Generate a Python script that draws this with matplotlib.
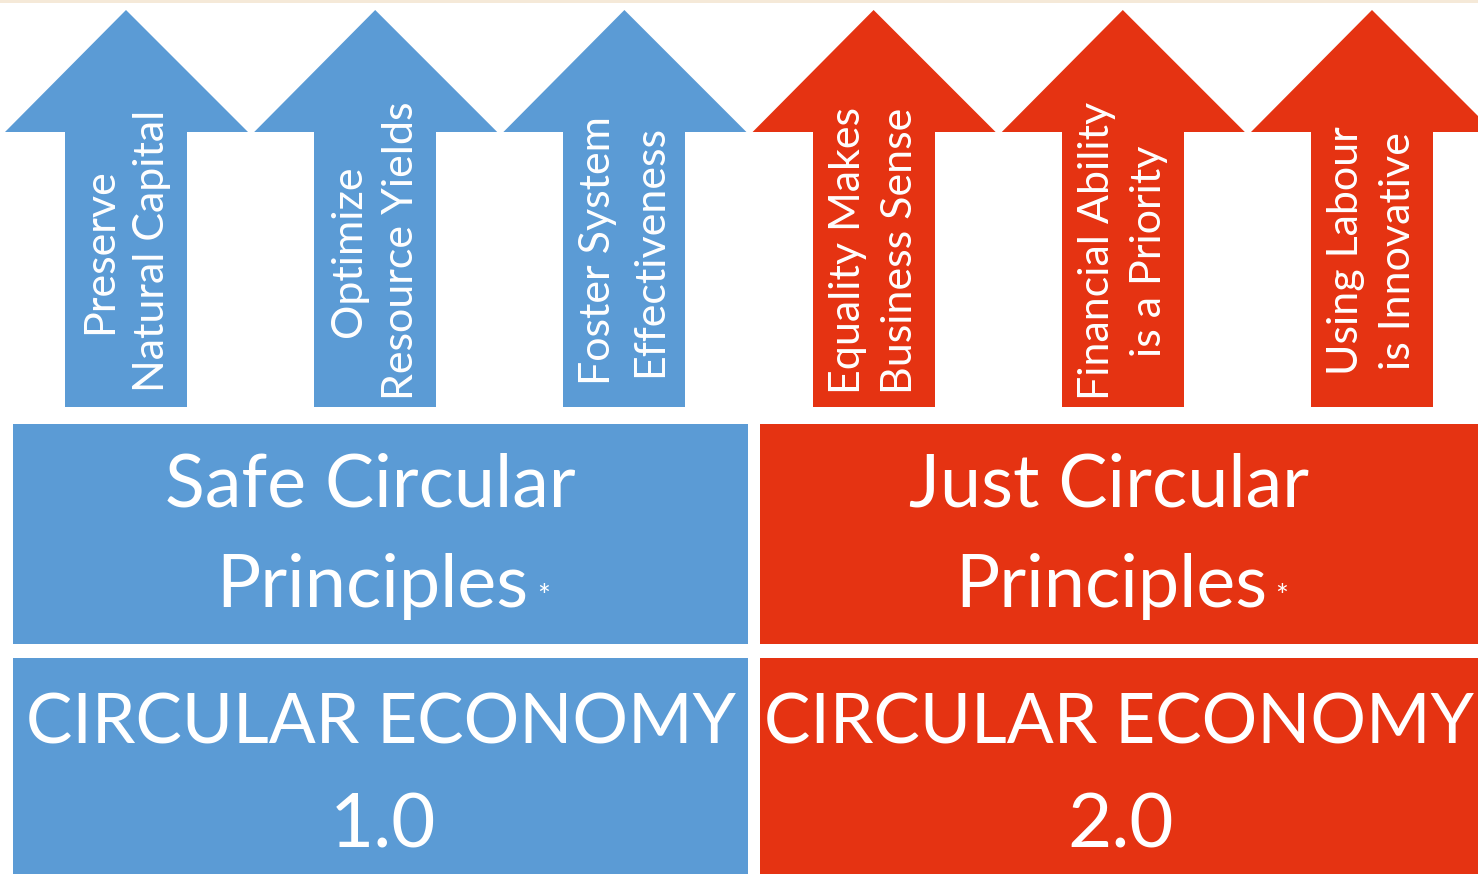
import matplotlib.pyplot as plt
from matplotlib.patches import Polygon, Rectangle

# principles shown on the arrows
principles = ['Preserve\nNatural Capital', 'Optimize\nResource Yields',
              'Foster System\nEffectiveness', 'Equality Makes\nBusiness Sense',
              'Financial Ability\nis a Priority', 'Using Labour\nis Innovative']
arrow_groups = [0, 0, 0, 1, 1, 1]
group_titles = ['Safe Circular', 'Just Circular']
group_subtitles = ['Principles', 'Principles']
economy_labels = ['CIRCULAR ECONOMY', 'CIRCULAR ECONOMY']
economy_versions = ['1.0', '2.0']
group_colors = ['#5B9BD5', '#E53312']

W, H = 1478, 874
font = ['Lato', 'DejaVu Sans']

fig = plt.figure(figsize=(W / 100, H / 100), dpi=100)
ax = fig.add_axes([0, 0, 1, 1])
ax.set_xlim(0, W)
ax.set_ylim(H, 0)
ax.axis('off')

# faint line at the very top
ax.add_patch(Rectangle((0, 0), W, 2.5, color='#F5E9D8', lw=0))

# arrows
for i, (txt, g) in enumerate(zip(principles, arrow_groups)):
    cx = 126 + 249.2 * i
    head = [(cx - 121, 132), (cx, 10), (cx + 122, 132)]
    shaft = [(cx - 61, 132), (cx + 61, 132), (cx + 61, 407), (cx - 61, 407)]
    ax.add_patch(Polygon(head, closed=True, color=group_colors[g], lw=0))
    ax.add_patch(Polygon(shaft, closed=True, color=group_colors[g], lw=0))
    ax.text(cx, 251, txt, rotation=90, ha='center', va='center', multialignment='center',
            color='white', fontsize=31, family=font, linespacing=1.45)

# group boxes
boxes_x = [(13, 748), (760, 1478)]
for g, (x0, x1) in enumerate(boxes_x):
    ax.add_patch(Rectangle((x0, 424), x1 - x0, 220, color=group_colors[g], lw=0))
    ax.add_patch(Rectangle((x0, 658), x1 - x0, 216, color=group_colors[g], lw=0))
    xc = (x0 + x1) / 2
    ax.text(xc - 10, 486, group_titles[g], ha='center', va='center', color='white',
            fontsize=53, family=font)
    ax.text(xc - 8, 586, group_subtitles[g], ha='center', va='center', color='white',
            fontsize=53, family=font)
    ax.text(xc + 163, 597, '*', ha='center', va='center', color='white',
            fontsize=22, family=font)
    ax.text(xc, 724, economy_labels[g], ha='center', va='center', color='white',
            fontsize=50, family=font)
    ax.text(xc + 2, 826, economy_versions[g], ha='center', va='center', color='white',
            fontsize=55, family=font)

fig.savefig('out.png', dpi=100)
